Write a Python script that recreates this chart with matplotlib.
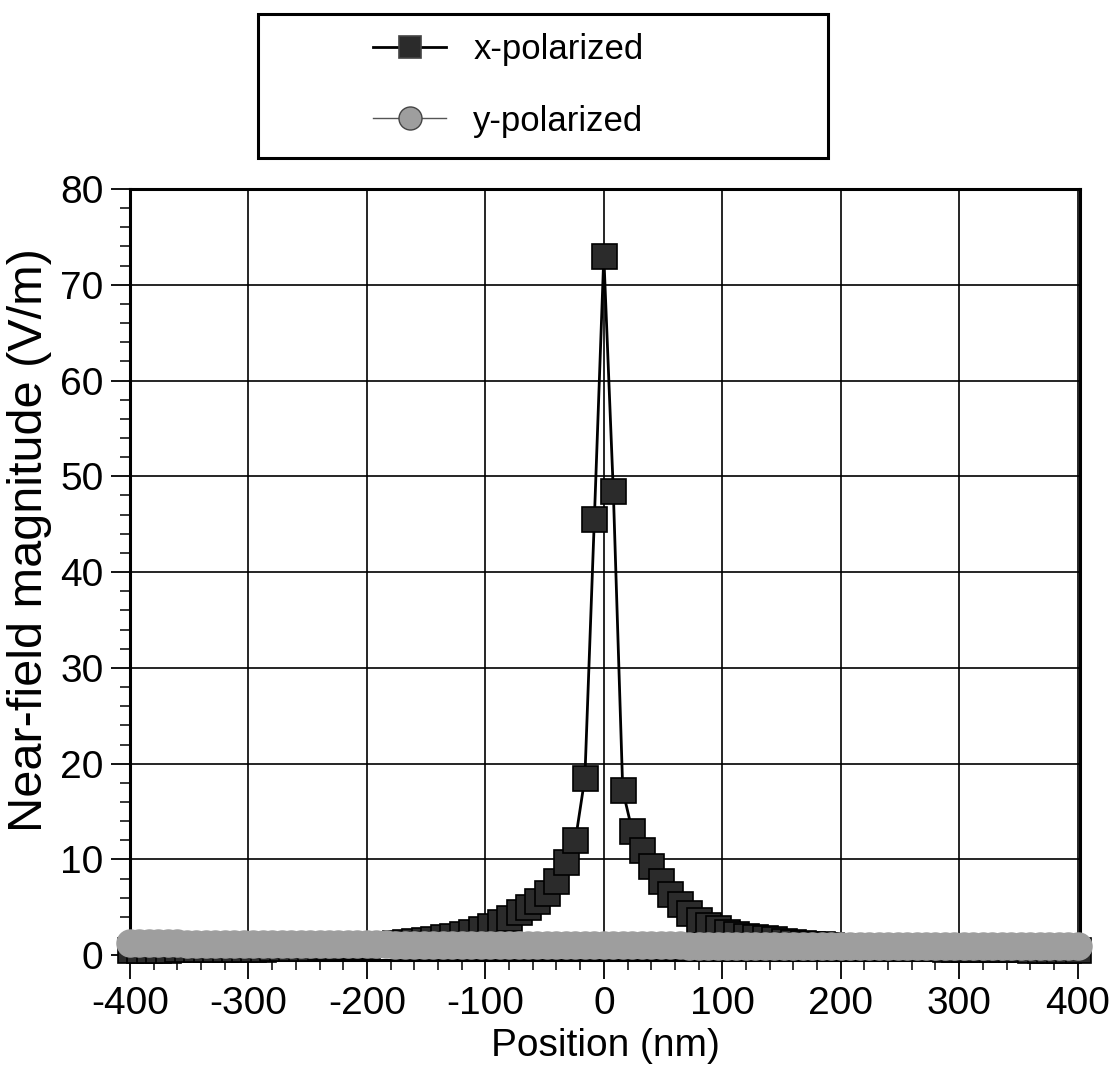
import numpy as np
import matplotlib
matplotlib.use('Agg')
import matplotlib.pyplot as plt
from matplotlib.patches import Rectangle
from matplotlib.ticker import MultipleLocator

plt.rcParams['font.family'] = ['Liberation Sans', 'DejaVu Sans']
plt.rcParams['axes.unicode_minus'] = False

# sample positions (nm), 8 nm step
position = [
    -400, -392, -384, -376, -368, -360, -352, -344, -336, -328, -320, -312, -304,
    -296, -288, -280, -272, -264, -256, -248, -240, -232, -224, -216, -208,
    -200, -192, -184, -176, -168, -160, -152, -144, -136, -128, -120, -112, -104,
    -96, -88, -80, -72, -64, -56, -48, -40, -32, -24, -16, -8,
    0,
    8, 16, 24, 32, 40, 48, 56, 64, 72, 80, 88, 96, 104, 112, 120, 128, 136, 144,
    152, 160, 168, 176, 184, 192, 200,
    208, 216, 224, 232, 240, 248, 256, 264, 272, 280, 288, 296, 304, 312, 320,
    328, 336, 344, 352, 360, 368, 376, 384, 392, 400,
]

x_pol = [
    0.55, 0.56, 0.57, 0.58, 0.59, 0.60, 0.61, 0.62, 0.63, 0.64, 0.65, 0.66, 0.67,
    0.68, 0.70, 0.72, 0.74, 0.76, 0.78, 0.80, 0.83, 0.86, 0.90, 0.95, 1.0,
    1.1, 1.15, 1.2, 1.3, 1.4, 1.5, 1.6, 1.72, 1.85, 2.0, 2.2, 2.45, 2.7,
    3.05, 3.5, 3.9, 4.5, 5.05, 5.7, 6.5, 7.8, 9.75, 12.0, 18.5, 45.5,
    73.0,
    48.5, 17.2, 13.0, 11.0, 9.3, 7.8, 6.4, 5.3, 4.4, 3.7, 3.2, 2.8, 2.45, 2.2,
    2.05, 1.9, 1.8, 1.65, 1.5, 1.4, 1.3, 1.2, 1.12, 1.05, 1.0,
    0.95, 0.91, 0.88, 0.85, 0.82, 0.79, 0.77, 0.75, 0.73, 0.71, 0.69, 0.67, 0.66,
    0.65, 0.64, 0.63, 0.62, 0.61, 0.60, 0.59, 0.58, 0.57, 0.56, 0.55, 0.55,
]

y_pol = [
    1.25, 1.25, 1.24, 1.24, 1.23, 1.23, 1.22, 1.22, 1.21, 1.21, 1.20, 1.20, 1.19,
    1.19, 1.18, 1.18, 1.17, 1.17, 1.16, 1.16, 1.15, 1.15, 1.14, 1.14, 1.13,
    1.13, 1.12, 1.12, 1.11, 1.11, 1.10, 1.10, 1.09, 1.09, 1.08, 1.08, 1.07, 1.07,
    1.06, 1.06, 1.06, 1.05, 1.05, 1.05, 1.05, 1.04, 1.04, 1.04, 1.04, 1.03,
    1.03,
    1.03, 1.03, 1.03, 1.02, 1.02, 1.02, 1.02, 1.02, 1.01, 1.01, 1.01, 1.01, 1.00,
    1.00, 1.00, 1.00, 1.00, 0.99, 0.99, 0.99, 0.99, 0.99, 0.98, 0.98, 0.98,
    0.98, 0.98, 0.97, 0.97, 0.97, 0.97, 0.97, 0.96, 0.96, 0.96, 0.96, 0.96, 0.96,
    0.95, 0.95, 0.95, 0.95, 0.95, 0.95, 0.95, 0.95, 0.95, 0.95, 0.95, 0.95,
]

W, H = 1111, 1072
fig = plt.figure(figsize=(W / 100, H / 100), dpi=100)
ax = fig.add_axes([130 / W, 1 - 960 / H, 950 / W, 771 / H])

ax.plot(position, x_pol, color='black', lw=2.0, marker='s', ms=18,
        mfc='#2b2b2b', mec='black', mew=1.2, label='x-polarized', zorder=3,
        clip_on=False)
ax.plot(position, y_pol, color='#555555', lw=1.0, marker='o', ms=19.5,
        mfc='#9e9e9e', mec='#9e9e9e', mew=1.0, label='y-polarized', zorder=4,
        clip_on=False)

ax.set_xlim(-400, 402)
ax.set_ylim(-0.5, 80)
ax.xaxis.set_major_locator(MultipleLocator(100))
ax.xaxis.set_minor_locator(MultipleLocator(20))
ax.yaxis.set_major_locator(MultipleLocator(10))
ax.yaxis.set_minor_locator(MultipleLocator(2))
ax.tick_params(which='major', length=14, width=1.3, labelsize=28, pad=5,
               color='black')
ax.tick_params(which='minor', length=7, width=1.1)
ax.grid(True, which='major', color='black', lw=1.2)
ax.set_axisbelow(True)
for s in ax.spines.values():
    s.set_linewidth(2.2)

ax.set_xlabel('Position (nm)', fontsize=28, labelpad=4)
ax.set_ylabel('Near-field magnitude (V/m)', fontsize=35)
ax.yaxis.set_label_coords(-0.082, 0.545)

# legend in a separate box above the axes
leg = fig.legend(loc='upper left', bbox_to_anchor=(356 / W, 1 - 16 / H),
                 frameon=False, fontsize=25, markerscale=0.85, handlelength=2.1,
                 handletextpad=0.78, labelspacing=1.1, borderpad=0)
for h in leg.legend_handles:
    h.set_markeredgecolor('#444444')
fig.add_artist(Rectangle((258 / W, 1 - 158 / H), 570 / W, 144 / H,
                         transform=fig.transFigure, fill=False, lw=2.2,
                         ec='black'))

fig.savefig('out.png', dpi=100)
